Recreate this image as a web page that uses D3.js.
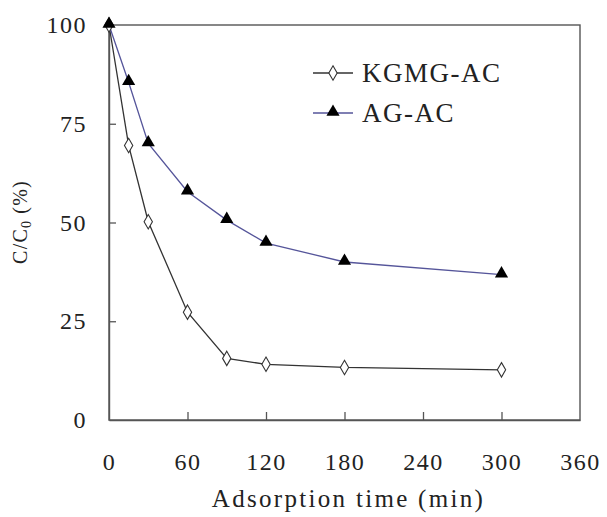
<!DOCTYPE html>
<html>
<head>
<meta charset="utf-8">
<script src="https://cdn.jsdelivr.net/npm/d3@7"></script>
<style>
  body { margin: 0; background: #fff; }
  text { font-family: "Liberation Serif", "DejaVu Serif", serif; fill: #222; }
</style>
</head>
<body>
<svg id="chart" width="607" height="517"></svg>
<script>
// data
var times = [0, 15, 30, 60, 90, 120, 180, 300];
var kgmg = [100, 69.5, 50.2, 27.3, 15.6, 14.1, 13.3, 12.7];
var agac = [100, 85.5, 70.0, 57.8, 50.6, 44.8, 40.0, 36.8];
var xTicks = [0, 60, 120, 180, 240, 300, 360];
var yTicks = [0, 25, 50, 75, 100];
var seriesNames = ["KGMG-AC", "AG-AC"];

var svg = d3.select("#chart");
var margin = {left: 109, right: 27, top: 25, bottom: 97};
var width = 607 - margin.left - margin.right,
    height = 517 - margin.top - margin.bottom;

var x = d3.scaleLinear().domain([0, 360]).range([0, width]);
var y = d3.scaleLinear().domain([0, 100]).range([height, 0]);

var g = svg.append("g")
    .attr("transform", "translate(" + margin.left + "," + margin.top + ")");

// frame
g.append("rect")
    .attr("width", width).attr("height", height)
    .style("fill", "none").style("stroke", "#555").style("stroke-width", 1.4);

// ticks inside the frame
var xAxis = g.append("g")
    .attr("transform", "translate(0," + height + ")")
    .call(d3.axisBottom(x).tickValues(xTicks).tickSizeInner(-8).tickSizeOuter(0).tickPadding(33));
var yAxis = g.append("g")
    .call(d3.axisLeft(y).tickValues(yTicks).tickSizeInner(-7).tickSizeOuter(0).tickPadding(22));

[xAxis, yAxis].forEach(function(a) {
  a.select(".domain").style("stroke", "#555").style("stroke-width", 1.4);
  a.selectAll(".tick line").style("stroke", "#555").style("stroke-width", 1.3);
  a.selectAll(".tick text")
      .style("font-size", "24px")
      .style("letter-spacing", "1.5px")
      .style("font-family", "'Liberation Serif', serif")
      .style("fill", "#222");
});
// hide tick marks at the ends
xAxis.selectAll(".tick line").filter(function(d) { return d == 0 || d == 360; }).remove();
yAxis.selectAll(".tick line").filter(function(d) { return d == 0 || d == 100; }).remove();

// axis titles
svg.append("text")
    .attr("x", margin.left + x(180) + 4)
    .attr("y", 507)
    .attr("text-anchor", "middle")
    .style("font-size", "25px")
    .style("letter-spacing", "2.3px")
    .text("Adsorption time (min)");

var yt = svg.append("text")
    .attr("transform", "translate(27,222)rotate(-90)")
    .attr("text-anchor", "middle")
    .style("font-size", "20px")
    .style("letter-spacing", "1.2px");
yt.append("tspan").text("C/C");
yt.append("tspan").attr("dy", 4).style("font-size", "14px").text("0");
yt.append("tspan").attr("dy", -4).text(" (%)");

var line = d3.line()
    .x(function(d) { return x(d[0]); })
    .y(function(d) { return y(d[1]); });

var kgData = times.map(function(t, i) { return [t, kgmg[i]]; });
var agData = times.map(function(t, i) { return [t, agac[i]]; });

var colors = ["#333333", "#55559a"];

g.append("path").datum(kgData).attr("d", line)
    .style("fill", "none").style("stroke", colors[0]).style("stroke-width", 1.3);
g.append("path").datum(agData).attr("d", line)
    .style("fill", "none").style("stroke", colors[1]).style("stroke-width", 1.3);

var diamond = d3.symbol().type(d3.symbolDiamond).size(60);
var triangle = d3.symbol().type(d3.symbolTriangle).size(75);

g.selectAll(".kg").data(kgData).enter().append("path")
    .attr("class", "kg")
    .attr("transform", function(d) { return "translate(" + x(d[0]) + "," + y(d[1]) + ")"; })
    .attr("d", diamond)
    .style("fill", "#fff").style("stroke", "#333").style("stroke-width", 1.1);

g.selectAll(".ag").data(agData).enter().append("path")
    .attr("class", "ag")
    .attr("transform", function(d) { return "translate(" + x(d[0]) + "," + (y(d[1]) - 1) + ")"; })
    .attr("d", triangle)
    .style("fill", "#000");

// legend
var legend = svg.append("g");
var lgY = [73, 113];
seriesNames.forEach(function(name, i) {
  legend.append("line")
      .attr("x1", 313).attr("x2", 353).attr("y1", lgY[i]).attr("y2", lgY[i])
      .style("stroke", colors[i]).style("stroke-width", 1.3);
  legend.append("path")
      .attr("transform", "translate(333," + (lgY[i] - (i ? 1 : 0)) + ")")
      .attr("d", i ? triangle : diamond)
      .style("fill", i ? "#000" : "#fff")
      .style("stroke", i ? "none" : "#333").style("stroke-width", 1.1);
  legend.append("text")
      .attr("x", 362).attr("y", lgY[i] + 9)
      .style("font-size", "27px")
      .style("letter-spacing", "1.5px")
      .text(name);
});
</script>
</body>
</html>
